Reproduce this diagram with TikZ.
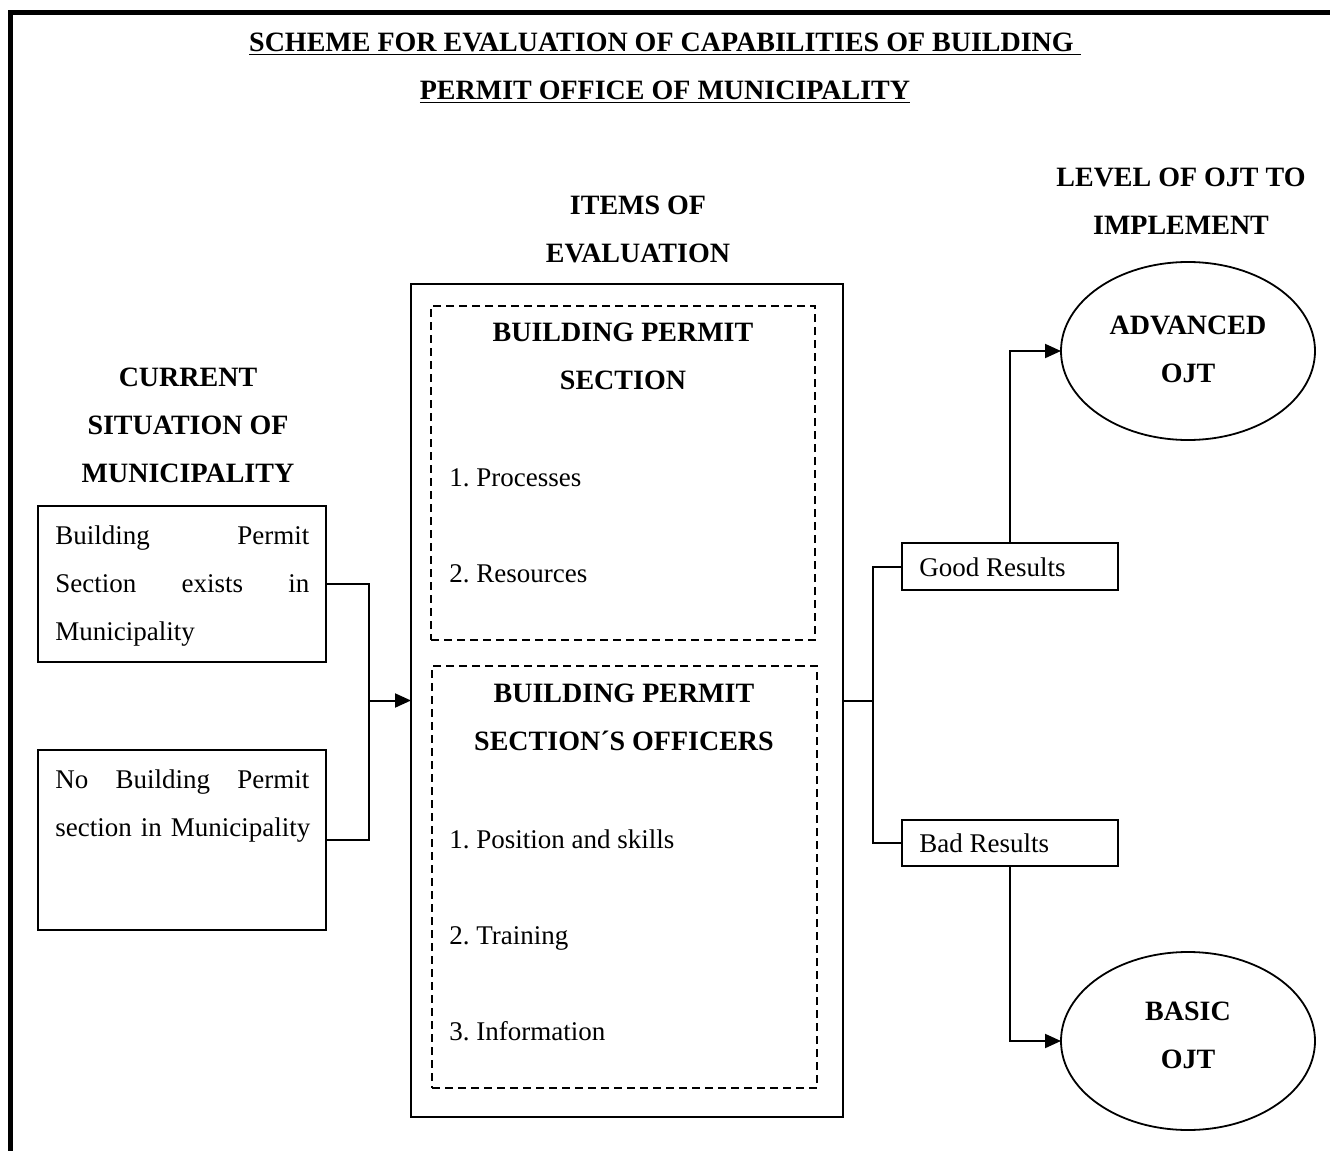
\documentclass[tikz,border=0pt]{standalone}
\usepackage{fontspec}
\setmainfont{Liberation Serif}
\usetikzlibrary{arrows.meta,shapes.geometric}
\frenchspacing
\begin{document}
\begin{tikzpicture}[x=0.5pt,y=-0.5pt,
 txt/.style={font=\fontsize{13.5}{24}\selectfont, inner sep=0pt},
 hd/.style={font=\fontsize{14}{24}\selectfont\bfseries, inner sep=0pt, align=center, anchor=north},
 solidbox/.style={draw, line width=1pt, rectangle, inner sep=0pt, outer sep=0pt, anchor=north west},
 dbox/.style={draw, line width=1pt, dash pattern=on 4pt off 2.5pt, rectangle, inner sep=0pt, outer sep=0pt, anchor=north west},
 oval/.style={draw, ellipse, line width=0.9pt, minimum width=127pt, minimum height=89pt, inner sep=0pt, outer sep=0pt,
   font=\fontsize{14}{24}\selectfont\bfseries, align=center},
 conn/.style={line width=1pt},
 arr/.style={conn, -{Triangle[length=8pt,width=7pt]}},
]
\useasboundingbox (0,0) rectangle (1330,1151);
% page border
\draw[line width=2.5pt] (10.5,1151) -- (10.5,12.5) -- (1330,12.5);

% headings
\node[hd] (title) at (665,32.5) {\underline{SCHEME FOR EVALUATION OF CAPABILITIES OF BUILDING\ }\\\underline{PERMIT OFFICE OF MUNICIPALITY}};
\node[hd] (items) at (638,195.5) {ITEMS OF\\EVALUATION};
\node[hd] (level) at (1181,167.5) {LEVEL OF OJT TO\\IMPLEMENT};
\node[hd] (current) at (188,367.5) {CURRENT\\SITUATION OF\\MUNICIPALITY};

% left boxes
\node[solidbox, minimum width=144pt, minimum height=78pt] (cs1) at (38,506) {};
\node[solidbox, minimum width=144pt, minimum height=90pt] (cs2) at (38,750) {};
\node[txt, anchor=north west, text width=127pt, align=left] (cs1t) at (55,525)
  {Building\hfill Permit\\Section\hfill exists\hfill in\\Municipality};
\node[txt, anchor=north west, text width=127pt, align=left] (cs2t) at (55,769)
  {No\hfill Building\hfill Permit\\\mbox{section in Municipality}};

% central boxes
\node[solidbox, minimum width=216pt, minimum height=416.5pt] (outer) at (411,284) {};
\node[dbox, minimum width=192pt, minimum height=167pt] (sec) at (431,306) {};
\node[dbox, minimum width=192.5pt, minimum height=211pt] (off) at (432,666) {};
\node[hd] (sech) at (623,322.5) {BUILDING PERMIT\\SECTION};
\node[txt, anchor=north west, align=left] (secl) at (449,468) {1. Processes\\[24pt]2. Resources};
\node[hd] (offh) at (624,683.5) {BUILDING PERMIT\\SECTION´S OFFICERS};
\node[txt, anchor=north west, align=left] (offl) at (449,829) {1. Position and skills\\[24pt]2. Training\\[24pt]3. Information};

% result boxes
\node[solidbox, minimum width=108pt, minimum height=23.5pt] (good) at (902,543) {};
\node[solidbox, minimum width=108pt, minimum height=23pt] (bad) at (902,820) {};
\node[txt, anchor=base west] (goodt) at (919,576) {Good Results};
\node[txt, anchor=base west] (badt) at (919,852) {Bad Results};

% ellipses
\node[oval] (adv) at (1188,351) {ADVANCED\\OJT\rule[-2pt]{0pt}{0pt}};
\node[oval] (basic) at (1188,1041) {BASIC\\OJT\rule[-6pt]{0pt}{0pt}};

% connectors
\coordinate (jl) at (369,700.5);
\coordinate (jr) at (873,700.5);
\draw[conn] (cs1.east) -| (jl);
\draw[conn] (cs2.east) -| (jl);
\draw[arr] (jl) -- (outer.west);
\draw[conn] (outer.east) -- (jr);
\draw[conn] (jr) |- (good.west);
\draw[conn] (jr) |- (bad.west);
\draw[arr] (good.north) |- (adv.west);
\draw[arr] (bad.south) |- (basic.west);
\end{tikzpicture}
\end{document}
